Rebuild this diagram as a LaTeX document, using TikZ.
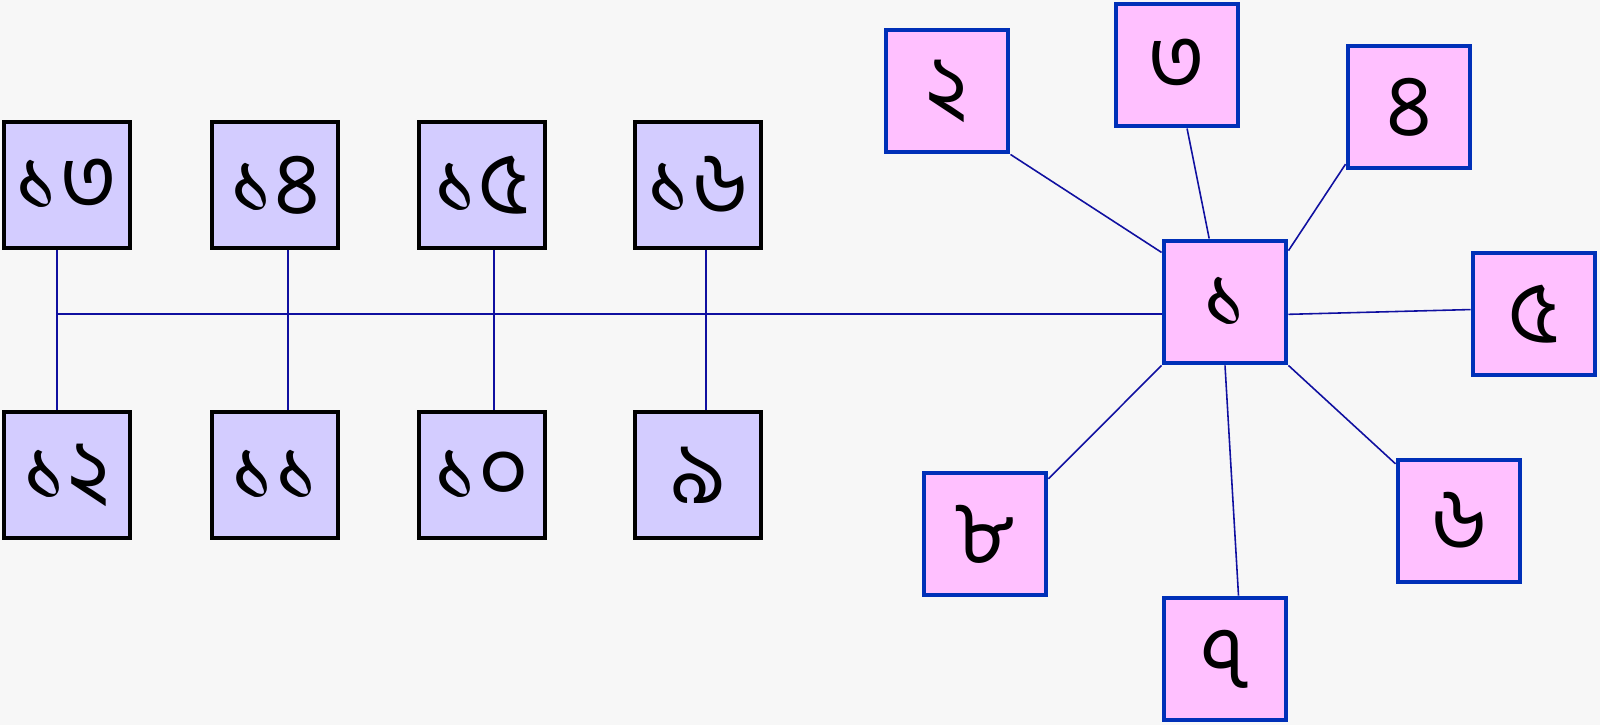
\documentclass[tikz,border=0pt]{standalone}
\usepackage{fontspec}
\newfontfamily\bnfont[Script=Bengali]{Hind Siliguri}
\definecolor{bgcol}{HTML}{F7F7F7}
\definecolor{lav}{HTML}{D3CCFF}
\definecolor{pinkfill}{HTML}{FFC0FF}
\definecolor{boxblue}{HTML}{0030B8}
\definecolor{wire}{HTML}{1010A0}
\usetikzlibrary{positioning}

\begin{document}
\begin{tikzpicture}[x=1cm, y=1cm,
    busbox/.style={rectangle, draw=black, line width=1.1pt, fill=lav, minimum size=1.26cm, inner sep=0pt, font=\bnfont\fontsize{25}{27}\selectfont},
    starbox/.style={rectangle, draw=boxblue, line width=1.4pt, fill=pinkfill, minimum size=1.22cm, inner sep=0pt, font=\bnfont\fontsize{25}{27}\selectfont},
    link/.style={draw=wire, line width=0.45pt}]
    \fill[bgcol] (0,0) rectangle (16,-7.25);
    \useasboundingbox (0,0) rectangle (16,-7.25);

    \node[busbox] (n13) at (0.67,-1.85) {১৩};
    \node[busbox] (n14) at (2.75,-1.85) {১৪};
    \node[busbox] (n15) at (4.82,-1.85) {১৫};
    \node[busbox] (n16) at (6.98,-1.85) {১৬};
    \node[busbox] (n12) at (0.67,-4.75) {১২};
    \node[busbox] (n11) at (2.75,-4.75) {১১};
    \node[busbox] (n10) at (4.82,-4.75) {১০};
    \node[busbox] (n9) at (6.98,-4.75) {৯};

    \node[starbox] (n1) at (12.25,-3.02) {১};
    \node[starbox] (n2) at (9.47,-0.91) {২};
    \node[starbox] (n3) at (11.77,-0.65) {৩};
    \node[starbox] (n4) at (14.09,-1.07) {৪};
    \node[starbox] (n5) at (15.34,-3.14) {৫};
    \node[starbox] (n6) at (14.59,-5.21) {৬};
    \node[starbox] (n7) at (12.25,-6.59) {৭};
    \node[starbox] (n8) at (9.85,-5.34) {৮};

    \coordinate (bus) at (0.57,-3.14);
    \draw[link] (bus) -- (n1.west |- bus);
    \draw[link] ([xshift=-0.10cm]n13.south) -- ([xshift=-0.10cm]n12.north);
    \draw[link] ([xshift=0.13cm]n14.south) -- ([xshift=0.13cm]n11.north);
    \draw[link] ([xshift=0.12cm]n15.south) -- ([xshift=0.12cm]n10.north);
    \draw[link] ([xshift=0.08cm]n16.south) -- ([xshift=0.08cm]n9.north);

    \draw[link] (n2.south east) -- (n1.142);
    \draw[link] (n3.279) -- (n1.104);
    \draw[link] (n4.222) -- (n1.39);
    \draw[link] (n5.176) -- (n1.349);
    \draw[link] (n6.138) -- (n1.south east);
    \draw[link] (n7.78) -- (n1.south);
    \draw[link] (n8.41) -- (n1.south west);
\end{tikzpicture}
\end{document}
